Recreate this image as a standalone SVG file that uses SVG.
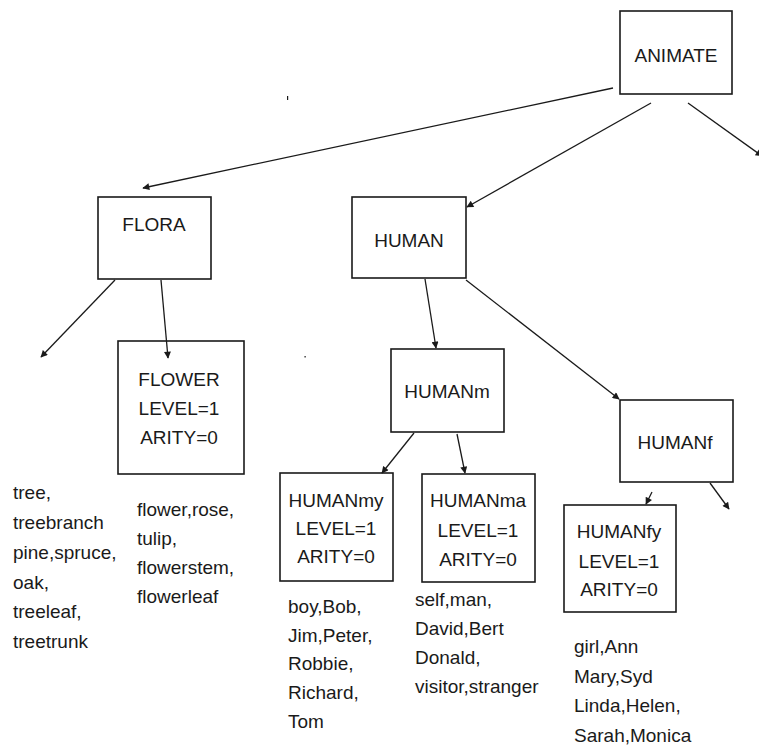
<svg xmlns="http://www.w3.org/2000/svg" width="759" height="750" viewBox="0 0 759 750">
<style>
.box{fill:none;stroke:#1a1a1a;stroke-width:1.6}
.t{font-family:"Liberation Sans",Arial,sans-serif;font-size:19px;fill:#1a1a1a}
.c{text-anchor:middle}
.e{stroke:#1a1a1a;stroke-width:1.3;fill:none;marker-end:url(#ah)}
</style>
<defs>
<marker id="ah" viewBox="0 0 10 10" refX="9" refY="5" markerWidth="9" markerHeight="7" markerUnits="userSpaceOnUse" orient="auto">
<path d="M0,0 L10,5 L0,10 z" fill="#1a1a1a"/>
</marker>
</defs>
<rect width="759" height="750" fill="#fff"/>
<g id="animate">
<rect class="box" x="620" y="11" width="112" height="83"/>
<text class="t c" x="676" y="62">ANIMATE</text>
</g>
<g id="flora">
<rect class="box" x="98" y="197" width="113" height="82"/>
<text class="t c" x="154" y="231">FLORA</text>
</g>
<g id="human">
<rect class="box" x="352" y="197" width="114" height="81"/>
<text class="t c" x="409" y="247">HUMAN</text>
</g>
<g id="flower">
<rect class="box" x="118" y="341" width="126" height="133"/>
<text class="t c" x="179" y="386">FLOWER</text>
<text class="t c" x="179" y="415">LEVEL=1</text>
<text class="t c" x="179" y="444">ARITY=0</text>
</g>
<g id="humanm">
<rect class="box" x="391" y="349" width="113" height="83"/>
<text class="t c" x="447" y="398">HUMANm</text>
</g>
<g id="humanf">
<rect class="box" x="620" y="400" width="113" height="82"/>
<text class="t c" x="675" y="449">HUMANf</text>
</g>
<g id="humanmy">
<rect class="box" x="280" y="473" width="113" height="108"/>
<text class="t c" x="336" y="507">HUMANmy</text>
<text class="t c" x="336" y="535">LEVEL=1</text>
<text class="t c" x="336" y="563">ARITY=0</text>
</g>
<g id="humanma">
<rect class="box" x="422" y="474" width="113" height="108"/>
<text class="t c" x="478" y="507">HUMANma</text>
<text class="t c" x="478" y="537">LEVEL=1</text>
<text class="t c" x="478" y="566">ARITY=0</text>
</g>
<g id="humanfy">
<rect class="box" x="564" y="505" width="112" height="107"/>
<text class="t c" x="619" y="538">HUMANfy</text>
<text class="t c" x="619" y="568">LEVEL=1</text>
<text class="t c" x="619" y="596">ARITY=0</text>
</g>
<g id="list-flora">
<text class="t" x="13" y="499">tree,</text>
<text class="t" x="13" y="529">treebranch</text>
<text class="t" x="13" y="559">pine,spruce,</text>
<text class="t" x="13" y="589">oak,</text>
<text class="t" x="13" y="618">treeleaf,</text>
<text class="t" x="13" y="648">treetrunk</text>
</g>
<g id="list-flower">
<text class="t" x="137" y="516">flower,rose,</text>
<text class="t" x="137" y="545">tulip,</text>
<text class="t" x="137" y="574">flowerstem,</text>
<text class="t" x="137" y="603">flowerleaf</text>
</g>
<g id="list-humanmy">
<text class="t" x="288" y="613">boy,Bob,</text>
<text class="t" x="288" y="642">Jim,Peter,</text>
<text class="t" x="288" y="670">Robbie,</text>
<text class="t" x="288" y="699">Richard,</text>
<text class="t" x="288" y="728">Tom</text>
</g>
<g id="list-humanma">
<text class="t" x="415" y="606">self,man,</text>
<text class="t" x="415" y="635">David,Bert</text>
<text class="t" x="415" y="664">Donald,</text>
<text class="t" x="415" y="693">visitor,stranger</text>
</g>
<g id="list-humanfy">
<text class="t" x="574" y="653">girl,Ann</text>
<text class="t" x="574" y="683">Mary,Syd</text>
<text class="t" x="574" y="712">Linda,Helen,</text>
<text class="t" x="574" y="742">Sarah,Monica</text>
</g>
<g id="connectors">
<line class="e" x1="613" y1="88" x2="143" y2="188"/>
<line class="e" x1="651" y1="103" x2="467" y2="207"/>
<line class="e" x1="688" y1="103" x2="762" y2="156"/>
<line class="e" x1="115" y1="280" x2="41" y2="357"/>
<line class="e" x1="161" y1="280" x2="168" y2="358"/>
<line class="e" x1="425" y1="279" x2="436" y2="348"/>
<line class="e" x1="466" y1="280" x2="619" y2="399"/>
<line class="e" x1="414" y1="433" x2="382" y2="473"/>
<line class="e" x1="457" y1="434" x2="465" y2="473"/>
<line class="e" x1="652" y1="492" x2="646" y2="504"/>
<line class="e" x1="710" y1="483" x2="729" y2="509"/>
</g>
<g id="marks" fill="#1a1a1a">
<rect x="287" y="96" width="1.2" height="4"/>
<rect x="304.5" y="356" width="1.2" height="1.5"/>
</g>
</svg>
